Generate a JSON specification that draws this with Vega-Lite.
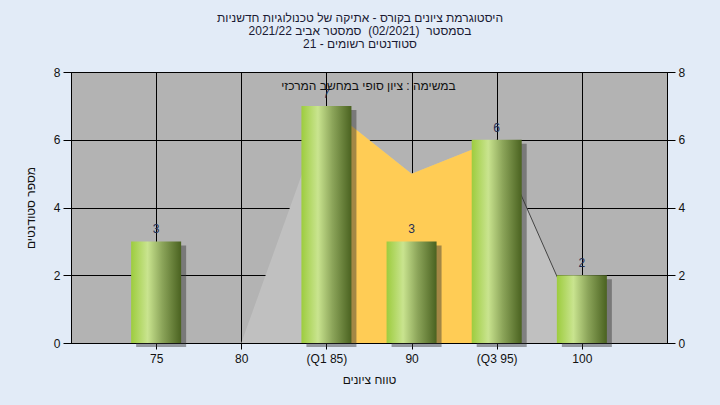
{
  "$schema": "https://vega.github.io/schema/vega-lite/v6.json",
  "width": 596,
  "height": 271,
  "autosize": {"type": "none"},
  "padding": {"left": 71, "top": 72, "right": 53, "bottom": 62},
  "background": "#e2ebf7",
  "config": {
    "view": {"stroke": "#000000", "strokeWidth": 1, "fill": "#b3b3b3"},
    "font": "Liberation Sans",
    "axis": {
      "domainColor": "#000000",
      "tickColor": "#000000",
      "gridColor": "#000000",
      "gridOpacity": 1,
      "labelColor": "#111111",
      "titleColor": "#111111",
      "labelFont": "Liberation Sans",
      "titleFont": "Liberation Sans",
      "labelFontSize": 12,
      "titleFontSize": 12,
      "titleFontWeight": "normal"
    }
  },
  "title": {
    "text": [
      "היסטוגרמת ציונים בקורס - אתיקה של טכנולוגיות חדשניות",
      "בסמסטר\u00a0\u00a0(02/2021)\u00a0\u00a0סמסטר אביב 2021/22",
      "סטודנטים רשומים - 21"
    ],
    "anchor": "middle",
    "font": "Liberation Sans",
    "fontSize": 12,
    "fontWeight": "normal",
    "color": "#1a1a33",
    "lineHeight": 13,
    "offset": 15,
    "dx": -9
  },
  "datasets": {
    "bars": [
      {"grade": 75, "count": 3},
      {"grade": 80, "count": 0},
      {"grade": 85, "count": 7},
      {"grade": 90, "count": 3},
      {"grade": 95, "count": 6},
      {"grade": 100, "count": 2}
    ],
    "curve": [
      {"grade": 80, "value": 0, "iqr": false},
      {"grade": 85, "value": 7, "iqr": true},
      {"grade": 90, "value": 5, "iqr": true},
      {"grade": 95, "value": 6, "iqr": true},
      {"grade": 100, "value": 0.3, "iqr": false}
    ],
    "note": [
      {"grade": 87.47, "value": 7.58, "text": "במשימה : ציון סופי במחשב המרכזי"}
    ]
  },
  "resolve": {"axis": {"y": "independent"}},
  "layer": [
    {
      "data": {"name": "curve"},
      "mark": {"type": "area", "color": "#c0c0c0", "interpolate": "linear"},
      "encoding": {
        "x": {
          "field": "grade", "type": "quantitative",
          "scale": {"domain": [70, 105], "nice": false, "zero": false, "padding": 0},
          "axis": {
            "values": [75, 80, 85, 90, 95, 100],
            "grid": true,
            "tickSize": 6,
            "labelPadding": 4,
            "labelExpr": "datum.value == 85 ? '(Q1 85)' : datum.value == 95 ? '(Q3 95)' : datum.label",
            "title": "טווח ציונים",
            "titlePadding": 10
          }
        },
        "y": {
          "field": "value", "type": "quantitative",
          "scale": {"domain": [0, 8], "nice": false, "padding": 0},
          "axis": {
            "orient": "left",
            "values": [0, 2, 4, 6, 8],
            "grid": true,
            "tickSize": 8,
            "labelPadding": 3,
            "title": "מספר סטודנטים",
            "titlePadding": 16
          }
        }
      }
    },
    {
      "data": {"name": "curve"},
      "transform": [{"filter": "datum.iqr"}],
      "mark": {"type": "area", "color": "#ffcc55", "interpolate": "linear"},
      "encoding": {
        "x": {"field": "grade", "type": "quantitative"},
        "y": {"field": "value", "type": "quantitative",
          "axis": {
            "orient": "right",
            "values": [0, 2, 4, 6, 8],
            "grid": false,
            "tickSize": 8,
            "labelPadding": 3,
            "title": null
          }
        }
      }
    },
    {
      "data": {"name": "curve"},
      "transform": [{"filter": "datum.grade >= 95"}],
      "mark": {"type": "line", "color": "#444444", "strokeWidth": 1},
      "encoding": {
        "x": {"field": "grade", "type": "quantitative"},
        "y": {"field": "value", "type": "quantitative", "axis": null}
      }
    },
    {
      "data": {"name": "bars"},
      "mark": {"type": "bar", "width": 50, "color": "#333333", "opacity": 0.45, "xOffset": 5, "yOffset": 4},
      "encoding": {
        "x": {"field": "grade", "type": "quantitative"},
        "y": {"field": "count", "type": "quantitative", "axis": null}
      }
    },
    {
      "data": {"name": "bars"},
      "mark": {
        "type": "bar",
        "width": 50,
        "color": {
          "gradient": "linear",
          "x1": 0, "x2": 1, "y1": 0, "y2": 0,
          "stops": [
            {"offset": 0, "color": "#9dcc3e"},
            {"offset": 0.33, "color": "#c9e48f"},
            {"offset": 0.62, "color": "#8ca55a"},
            {"offset": 1, "color": "#4a6220"}
          ]
        }
      },
      "encoding": {
        "x": {"field": "grade", "type": "quantitative"},
        "y": {"field": "count", "type": "quantitative", "axis": null}
      }
    },
    {
      "data": {"name": "bars"},
      "transform": [{"filter": "datum.count > 0"}],
      "mark": {"type": "text", "dy": -12, "fontSize": 12, "color": "#1f2f55", "font": "Liberation Sans"},
      "encoding": {
        "x": {"field": "grade", "type": "quantitative"},
        "y": {"field": "count", "type": "quantitative", "axis": null},
        "text": {"field": "count", "type": "quantitative"}
      }
    },
    {
      "data": {"name": "note"},
      "mark": {"type": "text", "fontSize": 12, "color": "#111111", "font": "Liberation Sans", "baseline": "middle"},
      "encoding": {
        "x": {"field": "grade", "type": "quantitative"},
        "y": {"field": "value", "type": "quantitative", "axis": null},
        "text": {"field": "text"}
      }
    }
  ]
}
